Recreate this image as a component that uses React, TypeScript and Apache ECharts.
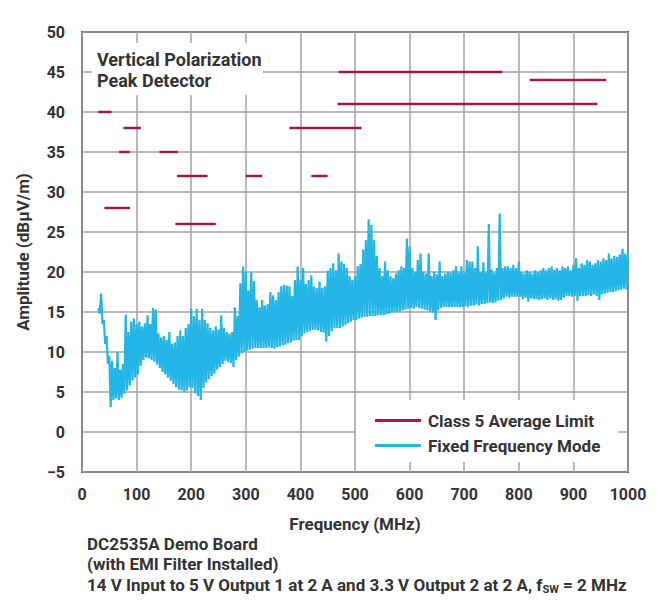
import React, { useEffect, useRef } from "react";
import * as echarts from "echarts";

// ---- Data ----
const X_TICKS = [0, 100, 200, 300, 400, 500, 600, 700, 800, 900, 1000];
const Y_TICKS = [-5, 0, 5, 10, 15, 20, 25, 30, 35, 40, 45, 50];

// Class 5 average limit segments (MHz start, MHz end, dBµV/m)
const LIMIT_START = [30, 41, 68, 76, 142, 171, 174, 300, 380, 420, 468, 470, 820];
const LIMIT_END = [54, 88, 87, 108, 175, 245, 230, 330, 512, 450, 944, 770, 960];
const LIMIT_LEVEL = [40, 28, 35, 38, 35, 26, 32, 32, 38, 32, 41, 45, 44];

// Measured emission trace (fixed frequency mode): peak reading every 5 MHz from 30 MHz,
// floor reading half way between consecutive peaks
const SWEEP_START_MHZ = 30;
const SWEEP_STEP_MHZ = 5;
const TRACE_PEAK = [
  15.5, 17.3, 14.0, 12.0, 9.5, 8.9, 8.0, 10.0, 7.8, 8.5, 14.7, 12.5, 13.8, 14.2,
  13.5, 13.8, 13.2, 13.6, 14.6, 13.5, 15.5, 15.3, 12.3, 11.8, 12.0, 11.5, 12.5, 11.0, 11.2, 12.0, 12.7, 12.0, 13.0, 13.5,
  15.4, 14.5, 15.4, 14.0, 15.4, 14.0, 13.6, 13.0, 12.7, 13.2, 12.8, 14.6, 13.0, 12.5, 12.3, 12.5, 15.6, 14.5, 18.6, 20.7,
  20.0, 17.7, 20.0, 18.9, 16.5, 15.6, 16.5, 15.8, 16.0, 17.5, 17.1, 16.5, 17.5, 18.2, 18.4, 18.3, 18.2, 17.0, 19.0, 20.7,
  19.0, 20.5, 18.5, 19.0, 19.6, 18.2, 18.0, 18.8, 18.0, 18.2, 20.2, 20.5, 21.1, 20.2, 22.3, 21.3, 21.0, 20.5, 19.5, 19.0,
  19.5, 20.7, 21.0, 22.8, 24.0, 26.6, 25.9, 24.0, 22.0, 20.5, 19.5, 21.3, 20.2, 19.5, 19.2, 19.8, 20.2, 20.7, 20.5, 24.2,
  23.2, 20.5, 20.0, 21.5, 22.3, 20.0, 19.8, 22.3, 19.5, 20.0, 19.7, 21.3, 19.5, 19.8, 20.0, 19.9, 20.2, 20.7, 19.9, 20.7,
  19.9, 21.5, 21.3, 21.3, 20.5, 23.2, 20.0, 21.2, 19.9, 26.0, 20.3, 19.9, 20.5, 27.3, 20.5, 20.7, 20.7, 20.5, 20.9, 20.5,
  21.3, 20.0, 19.8, 20.2, 20.0, 19.8, 20.2, 20.0, 20.2, 20.5, 20.2, 20.5, 20.7, 20.3, 20.5, 20.2, 20.7, 20.5, 20.7, 20.2,
  20.9, 21.7, 20.5, 21.1, 20.9, 21.5, 21.3, 20.9, 21.1, 21.5, 21.3, 21.7, 21.5, 22.3, 21.7, 22.0, 21.9, 22.2, 22.9, 22.3,
  22.5,
];
const TRACE_FLOOR = [
  14.8, 13.5, 11.0, 8.5, 3.1, 4.0, 4.2, 4.0, 4.3, 4.8, 5.2, 5.8, 6.4, 6.8,
  7.2, 8.3, 9.0, 9.3, 9.2, 9.0, 8.8, 8.4, 8.0, 7.5, 7.2, 6.8, 6.4, 6.0, 5.6, 5.3, 5.2, 5.0, 5.2, 5.6,
  5.5, 4.8, 4.5, 4.0, 5.5, 6.2, 6.6, 7.0, 7.3, 7.8, 8.1, 8.5, 8.9, 8.8, 8.6, 8.1, 9.0, 9.4, 9.8, 10.0,
  10.2, 10.3, 10.4, 10.5, 10.5, 10.5, 10.5, 10.5, 10.6, 10.5, 10.4, 10.6, 10.7, 10.8, 10.9, 11.1, 11.2, 11.4, 11.5, 11.5,
  12.0, 12.3, 12.5, 12.6, 12.8, 12.8, 12.7, 12.5, 12.4, 11.3, 12.0, 12.6, 13.0, 13.0, 13.0, 13.2, 13.4, 13.6, 13.8, 14.0,
  14.0, 14.2, 14.3, 14.4, 14.4, 14.5, 14.5, 14.5, 14.6, 14.6, 14.6, 14.7, 14.8, 14.9, 15.0, 15.0, 15.1, 15.2, 15.3, 15.4,
  15.5, 15.4, 15.6, 15.5, 15.4, 15.3, 15.2, 15.0, 14.9, 14.0, 15.2, 15.5, 15.6, 15.6, 15.6, 15.6, 15.6, 15.6, 15.6, 15.6,
  15.7, 15.6, 15.8, 15.8, 15.9, 15.8, 16.0, 16.0, 16.1, 16.2, 16.1, 16.2, 16.4, 16.5, 16.7, 16.9, 16.8, 16.9, 16.9, 16.9,
  16.9, 16.6, 16.8, 16.3, 16.7, 16.6, 16.6, 16.5, 16.6, 16.7, 16.5, 16.7, 16.5, 16.6, 16.4, 16.5, 16.8, 17.0, 17.0, 16.9,
  17.0, 16.4, 17.0, 17.0, 17.0, 17.1, 17.0, 17.2, 17.0, 16.5, 17.2, 17.3, 17.4, 17.5, 17.5, 17.6, 17.7, 17.8, 17.9, 17.8,
];

const LIMIT_NAME = "Class 5 Average Limit";
const TRACE_NAME = "Fixed Frequency Mode";
const CAPTION_1 = "DC2535A Demo Board";
const CAPTION_2 = "(with EMI Filter Installed)";
const CAPTION_3A = "14 V Input to 5 V Output 1 at 2 A and 3.3 V Output 2 at 2 A, f";
const CAPTION_3SUB = "SW";
const CAPTION_3B = " = 2 MHz";

const FONT = "Roboto, 'Noto Sans', sans-serif";
const TEXT_COLOR = "#333333";
const LIMIT_COLOR = "#a3194e";
const TRACE_COLOR = "#22b5e6";

export default function App() {
  const ref = useRef<HTMLDivElement>(null);

  useEffect(() => {
    document.body.style.margin = "0";
    if (!ref.current) return;
    const chart = echarts.init(ref.current, undefined, { renderer: "svg" });

    const limitData: any[] = [];
    for (let i = 0; i < LIMIT_LEVEL.length; i++) {
      limitData.push([LIMIT_START[i], LIMIT_LEVEL[i]]);
      limitData.push([LIMIT_END[i], LIMIT_LEVEL[i]]);
      limitData.push([LIMIT_END[i], "-"]);
    }

    const traceData: any[] = [];
    for (let i = 0; i < TRACE_PEAK.length; i++) {
      const f = SWEEP_START_MHZ + i * SWEEP_STEP_MHZ;
      traceData.push([f, TRACE_PEAK[i]]);
      if (i < TRACE_FLOOR.length && i < TRACE_PEAK.length - 1) {
        traceData.push([f + SWEEP_STEP_MHZ / 2, TRACE_FLOOR[i]]);
      }
    }

    const boldText = (size: number) => ({
      fontFamily: FONT,
      fontWeight: "bold" as const,
      fontSize: size,
      color: TEXT_COLOR,
    });

    chart.setOption({
      animation: false,
      backgroundColor: "#ffffff",
      grid: {
        left: 82,
        right: 34,
        top: 32,
        bottom: 138,
        show: true,
        borderColor: "#404040",
        borderWidth: 2,
        backgroundColor: "transparent",
      },
      xAxis: {
        type: "value",
        min: X_TICKS[0],
        max: X_TICKS[X_TICKS.length - 1],
        interval: 100,
        name: "Frequency (MHz)",
        nameLocation: "middle",
        nameGap: 43,
        nameTextStyle: boldText(17),
        axisLine: { show: false },
        axisTick: { show: false },
        axisLabel: { ...boldText(16), margin: 14, formatter: (v: number) => String(v) },
        splitLine: { show: true, lineStyle: { color: "#a3a3a3", width: 1.5 } },
      },
      yAxis: {
        type: "value",
        min: Y_TICKS[0],
        max: Y_TICKS[Y_TICKS.length - 1],
        interval: 5,
        name: "Amplitude (dBµV/m)",
        nameLocation: "middle",
        nameGap: 51,
        nameTextStyle: boldText(17),
        axisLine: { show: false },
        axisTick: { show: false },
        axisLabel: {
          ...boldText(16),
          margin: 17,
          formatter: (v: number) => (v < 0 ? "\u2212" + Math.abs(v) : String(v)),
        },
        splitLine: { show: true, lineStyle: { color: "#a3a3a3", width: 1.5 } },
      },
      legend: {
        left: 370,
        top: 406,
        orient: "vertical",
        icon: "rect",
        itemWidth: 46,
        itemHeight: 3,
        itemGap: 6,
        textStyle: { ...boldText(17), padding: [0, 0, 0, 2], lineHeight: 19 },
        data: [LIMIT_NAME, TRACE_NAME],
      },
      graphic: {
        elements: [
          {
            type: "rect",
            z: 1,
            shape: { x: 92, y: 43, width: 171, height: 52 },
            style: { fill: "#ffffff" },
          },
          {
            type: "rect",
            z: 1,
            shape: { x: 356, y: 400, width: 262, height: 62 },
            style: { fill: "#ffffff" },
          },
          {
            type: "text",
            z: 5,
            x: 97,
            y: 59,
            style: { text: "Vertical Polarization", font: `bold 18px ${FONT}`, fill: TEXT_COLOR, verticalAlign: "middle" },
          },
          {
            type: "text",
            z: 5,
            x: 97,
            y: 80.5,
            style: { text: "Peak Detector", font: `bold 18px ${FONT}`, fill: TEXT_COLOR, verticalAlign: "middle" },
          },
          {
            type: "text",
            z: 5,
            x: 87,
            y: 544,
            style: { text: CAPTION_1, font: `bold 17px ${FONT}`, fill: TEXT_COLOR, verticalAlign: "middle" },
          },
          {
            type: "text",
            z: 5,
            x: 87,
            y: 564,
            style: { text: CAPTION_2, font: `bold 17px ${FONT}`, fill: TEXT_COLOR, verticalAlign: "middle" },
          },
          {
            type: "text",
            z: 5,
            x: 87,
            y: 585,
            style: {
              text: `{a|${CAPTION_3A}}{s|${CAPTION_3SUB}}{a|${CAPTION_3B}}`,
              verticalAlign: "middle",
              rich: {
                a: { fontFamily: FONT, fontWeight: "bold", fontSize: 17, fill: TEXT_COLOR, lineHeight: 20 },
                s: { fontFamily: FONT, fontWeight: "bold", fontSize: 11, fill: TEXT_COLOR, lineHeight: 20, padding: [9, 0, 0, 0] },
              },
            },
          },
        ],
      },
      series: [
        {
          name: LIMIT_NAME,
          type: "line",
          data: limitData,
          showSymbol: false,
          symbol: "none",
          connectNulls: false,
          z: 3,
          lineStyle: { color: LIMIT_COLOR, width: 2.5 },
          itemStyle: { color: LIMIT_COLOR },
        },
        {
          name: TRACE_NAME,
          type: "line",
          data: traceData,
          showSymbol: false,
          symbol: "none",
          z: 2,
          lineStyle: { color: TRACE_COLOR, width: 2.2, join: "bevel" },
          itemStyle: { color: TRACE_COLOR },
        },
      ],
    });

    return () => chart.dispose();
  }, []);

  return <div ref={ref} style={{ width: 662, height: 610 }} />;
}
